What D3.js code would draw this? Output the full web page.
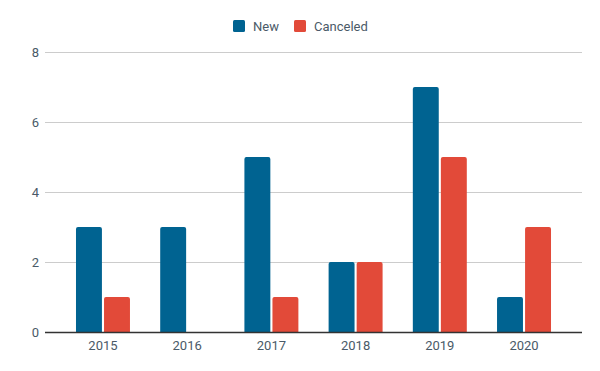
<!DOCTYPE html>
<html>
<head>
<meta charset="utf-8">
<script src="https://cdn.jsdelivr.net/npm/d3@7"></script>
<style>
  body { margin: 0; background: #fff; }
  text { font-family: Roboto, Arial, sans-serif; }
</style>
</head>
<body>
<svg width="600" height="371"></svg>
<script>
// data
const years = ['2015', '2016', '2017', '2018', '2019', '2020'];
const newCounts = [3, 3, 5, 2, 7, 1];
const canceledCounts = [1, 0, 1, 2, 5, 3];
const seriesNames = ['New', 'Canceled'];
const seriesColors = ['#006391', '#e24a39'];
const yTicks = [0, 2, 4, 6, 8];

const svg = d3.select('svg');
const plotLeft = 45, plotRight = 582, plotTop = 52, plotBottom = 332;
const textColor = '#4a5a68';

const x0 = d3.scaleBand().domain(years).range([plotLeft, plotRight])
    .paddingInner(0.359).paddingOuter(0.368);
const x1 = d3.scaleBand().domain(seriesNames).range([0, x0.bandwidth()])
    .paddingInner(0.075);
const y = d3.scaleLinear().domain([0, 8]).range([plotBottom, plotTop]);

// gridlines + y labels
svg.append('g').selectAll('line').data(yTicks.filter(d => d > 0)).join('line')
    .attr('x1', plotLeft).attr('x2', plotRight)
    .attr('y1', d => y(d)).attr('y2', d => y(d))
    .attr('stroke', '#cccccc').attr('stroke-width', 1)
    .attr('shape-rendering', 'crispEdges');

svg.append('g').selectAll('text').data(yTicks).join('text')
    .attr('x', 39).attr('y', d => y(d))
    .attr('dy', '0.35em')
    .attr('text-anchor', 'end')
    .attr('font-size', 13)
    .attr('fill', textColor)
    .text(d => d);

// bars with slightly rounded tops
function barPath(x, w, yTop, yBase) {
  const h = yBase - yTop;
  if (h <= 0) return '';
  const r = Math.min(2, h / 2, w / 2);
  return `M${x},${yBase}V${yTop + r}Q${x},${yTop} ${x + r},${yTop}` +
    `H${x + w - r}Q${x + w},${yTop} ${x + w},${yTop + r}V${yBase}Z`;
}

const rows = years.map((yr, i) => ({
  year: yr,
  vals: [{ key: 'New', v: newCounts[i] }, { key: 'Canceled', v: canceledCounts[i] }]
}));

svg.append('g').selectAll('g').data(rows).join('g')
    .attr('transform', d => `translate(${x0(d.year)},0)`)
  .selectAll('path').data(d => d.vals).join('path')
    .attr('d', d => barPath(x1(d.key), x1.bandwidth(), y(d.v), y(0)))
    .attr('fill', d => seriesColors[seriesNames.indexOf(d.key)]);

// x axis line
svg.append('line')
    .attr('x1', plotLeft).attr('x2', plotRight)
    .attr('y1', plotBottom + 0.5).attr('y2', plotBottom + 0.5)
    .attr('stroke', '#333333').attr('stroke-width', 1.3);

// x labels
svg.append('g').selectAll('text').data(years).join('text')
    .attr('x', d => x0(d) + x0.bandwidth() / 2)
    .attr('y', 350)
    .attr('text-anchor', 'middle')
    .attr('font-size', 13)
    .attr('fill', textColor)
    .text(d => d);

// legend
const legendX = [233, 294];
const legend = svg.append('g').selectAll('g').data(seriesNames).join('g')
    .attr('transform', (d, i) => `translate(${legendX[i]},20)`);
legend.append('rect')
    .attr('width', 12).attr('height', 12).attr('rx', 1.5)
    .attr('fill', (d, i) => seriesColors[i]);
legend.append('text')
    .attr('x', 20).attr('y', 6).attr('dy', '0.35em')
    .attr('font-size', 13)
    .attr('fill', textColor)
    .text(d => d);
</script>
</body>
</html>
